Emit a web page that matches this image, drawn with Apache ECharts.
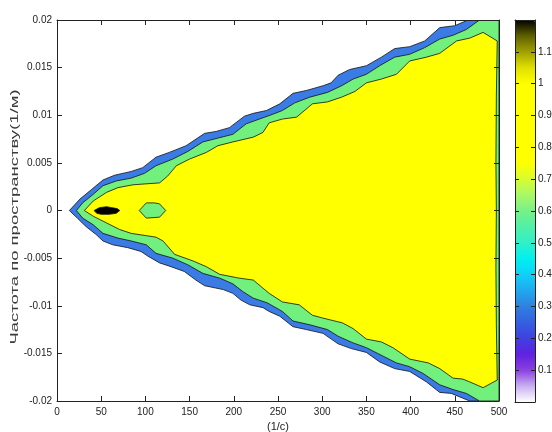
<!DOCTYPE html>
<html><head><meta charset="utf-8">
<script src="https://cdn.jsdelivr.net/npm/echarts@6/dist/echarts.min.js"></script>
<style>html,body{margin:0;padding:0;background:#fff}#c{width:552px;height:432px}</style>
</head><body><div id="c"></div>
<script>
// ---- texts / ranges ----
const xTitle = '(1/с)';
const yTitle = 'Частота по пространству(1/м)';
const xRange = [0, 500, 50];
const yRange = [-0.02, 0.02, 0.005];
const cbRange = [0, 1.2, 0.1];

// colormap for the colour bar (0 .. 1.2)
const colormap = ['#ffffff','#c8b0f0','#8a40e0','#6020e0','#4040e0','#3460e0','#3080e0','#20a8f0','#10d0f8','#00f0f0','#30f0c8','#50f0a8','#78f088','#a8f868','#d8fc30','#ffff00','#ffff00','#ffff00','#ffff00','#ffff00','#ffff00','#e0e000','#a0a000','#606000','#000000'];

// ---- contour boundaries (x: 1/с, y: 1/м) ----
const outerUpper = [[14,0],[26,0.0012],[39,0.0022],[52,0.0032],[65,0.0037],[84,0.0041],[97,0.0045],[112,0.0056],[127,0.0061],[146,0.0068],[167,0.0081],[180,0.0083],[195,0.0087],[212,0.0099],[222,0.0102],[237,0.0105],[252,0.0112],[267,0.0123],[282,0.0126],[301,0.0131],[310,0.0134],[318,0.0142],[331,0.0148],[350,0.0152],[367,0.0161],[382,0.0170],[399,0.0172],[416,0.0178],[433,0.0192],[450,0.0194],[465,0.0200]];
const outerLower = [[14,0],[23,-0.0008],[33,-0.0017],[44,-0.0025],[52,-0.0032],[63,-0.0036],[80,-0.0039],[95,-0.0043],[103,-0.0048],[116,-0.0055],[129,-0.0059],[144,-0.0064],[157,-0.0073],[167,-0.0079],[188,-0.0083],[199,-0.0087],[208,-0.0094],[218,-0.0099],[233,-0.0102],[240,-0.0106],[252,-0.0111],[267,-0.0122],[282,-0.0125],[301,-0.0129],[318,-0.0140],[333,-0.0145],[350,-0.0149],[365,-0.0159],[382,-0.0166],[399,-0.0169],[418,-0.0180],[433,-0.0191],[446,-0.0192],[459,-0.0197],[467,-0.0200]];
const midUpper = [[22,0],[29,0.0008],[41,0.0017],[52,0.0026],[67,0.0031],[84,0.0034],[99,0.0039],[112,0.0047],[131,0.0054],[148,0.0062],[165,0.0072],[182,0.0076],[199,0.0080],[214,0.0091],[229,0.0096],[244,0.0101],[255,0.0105],[269,0.0113],[286,0.0119],[306,0.0124],[322,0.0131],[335,0.0138],[350,0.0143],[365,0.0152],[382,0.0161],[399,0.0164],[416,0.0171],[433,0.0180],[448,0.0184],[463,0.0190],[478,0.0200]];
const midLower = [[22,0],[29,-0.0008],[41,-0.0015],[52,-0.0024],[69,-0.0029],[84,-0.0032],[101,-0.0036],[112,-0.0045],[131,-0.0050],[148,-0.0057],[165,-0.0066],[184,-0.0071],[199,-0.0077],[210,-0.0085],[222,-0.0092],[238,-0.0097],[255,-0.0106],[267,-0.0116],[286,-0.0120],[306,-0.0125],[318,-0.0132],[335,-0.0139],[350,-0.0144],[369,-0.0153],[384,-0.0160],[399,-0.0164],[414,-0.0171],[433,-0.0183],[448,-0.0188],[463,-0.0192],[478,-0.0200]];
const innerUpper = [[31,0],[41,0.0010],[56,0.0019],[69,0.0024],[86,0.0027],[116,0.0029],[125,0.0036],[135,0.0047],[150,0.0054],[169,0.0061],[182,0.0068],[199,0.0072],[222,0.0077],[233,0.0082],[240,0.0092],[255,0.0096],[271,0.0098],[289,0.0112],[306,0.0114],[322,0.0119],[337,0.0125],[350,0.0134],[367,0.0138],[384,0.0143],[399,0.0157],[418,0.0161],[433,0.0165],[452,0.0178],[467,0.0181],[482,0.0187],[498,0.0178]];
const innerRight = [[497,0.012],[496.5,0.005],[497,0],[496.5,-0.006],[497,-0.012]];
const innerLower = [[31,0],[41,-0.0006],[56,-0.0013],[71,-0.0020],[84,-0.0024],[112,-0.0028],[120,-0.0032],[133,-0.0046],[154,-0.0053],[169,-0.0059],[184,-0.0067],[206,-0.0071],[222,-0.0073],[231,-0.0080],[240,-0.0087],[255,-0.0096],[274,-0.0099],[289,-0.0110],[301,-0.0113],[323,-0.0118],[335,-0.0124],[350,-0.0135],[367,-0.0138],[380,-0.0144],[399,-0.0156],[420,-0.0160],[433,-0.0166],[448,-0.0176],[459,-0.0177],[467,-0.0180],[482,-0.0186],[498,-0.0178]];
const dipIsland = [[93,0],[101,0.0008],[110,0.0008],[116,0.0007],[123,0],[116,-0.0007],[101,-0.0008]];
const peakBlob = [[42,0],[48,0.0003],[56,0.0004],[62,0.0003],[68,0.0002],[71,0],[67,-0.0003],[59,-0.0004],[50,-0.0004],[45,-0.0003]];
const rightCorners = [[500,0.02],[500,-0.02]];

const fillBlue = '#3b7be6', fillGreen = '#72f07e', fillYellow = '#ffff00', fillBlack = '#000000';
const FONT = "'Liberation Sans',Arial,sans-serif";

function rev(a){ return a.slice().reverse(); }
const polyBlue = outerUpper.concat(rightCorners, rev(outerLower));
const polyGreen = midUpper.concat(rightCorners, rev(midLower));
const polyYellow = innerUpper.concat(innerRight, rev(innerLower));

function polySeries(points, color, z){
  return {
    type: 'custom', xAxisIndex: 0, yAxisIndex: 0, coordinateSystem: 'cartesian2d',
    data: points, clip: true, z: z, silent: true, encode: {x: 0, y: 1},
    renderItem: function(params, api){
      if (params.dataIndex !== 0) return null;
      return { type: 'polygon', shape: { points: points.map(function(p){ return api.coord(p); }) },
        style: { fill: color, stroke: '#111', lineWidth: 0.8 } };
    }
  };
}

const chart = echarts.init(document.getElementById('c'), null, {renderer: 'canvas'});
const axLine = {show: true, onZero: false, lineStyle: {color: '#222', width: 1}};
const tick = {show: true, inside: true, length: 5, lineStyle: {color: '#222'}};
const lbl = {color: '#222', fontFamily: FONT, fontSize: 10};
chart.setOption({
  animation: false,
  backgroundColor: '#fff',
  grid: [
    {left: 57, top: 20, width: 442, height: 381, outerBoundsMode: 'none', containLabel: false},
    {left: 515, top: 20, width: 20, height: 382, outerBoundsMode: 'none', containLabel: false}
  ],
  graphic: [{
    type: 'text', x: 15, y: 217, rotation: Math.PI / 2, scaleY: 0.58, silent: true,
    style: {text: yTitle, font: "18.5px 'Liberation Sans', Arial, sans-serif", fill: '#3a3a3a', align: 'center', verticalAlign: 'middle'}
  }],
  xAxis: [
    {gridIndex: 0, type: 'value', min: xRange[0], max: xRange[1], interval: xRange[2], position: 'bottom', z: 10,
     axisLine: axLine, axisTick: tick, splitLine: {show: false}, axisLabel: Object.assign({margin: 6}, lbl),
     name: xTitle, nameLocation: 'middle', nameGap: 20, nameMoveOverlap: false, nameTextStyle: {color: '#222', fontFamily: FONT, fontSize: 11}},
    {gridIndex: 0, type: 'value', min: xRange[0], max: xRange[1], interval: xRange[2], position: 'top', z: 10,
     axisLine: axLine, axisTick: tick, splitLine: {show: false}, axisLabel: {show: false}},
    {gridIndex: 1, type: 'value', min: 0, max: 1, position: 'bottom', z: 10,
     axisLine: axLine, axisTick: {show: false}, splitLine: {show: false}, axisLabel: {show: false}},
    {gridIndex: 1, type: 'value', min: 0, max: 1, position: 'top', z: 10,
     axisLine: axLine, axisTick: {show: false}, splitLine: {show: false}, axisLabel: {show: false}}
  ],
  yAxis: [
    {gridIndex: 0, type: 'value', min: yRange[0], max: yRange[1], interval: yRange[2], position: 'left', z: 10,
     axisLine: axLine, axisTick: tick, splitLine: {show: false}, axisLabel: Object.assign({margin: 5}, lbl)},
    {gridIndex: 0, type: 'value', min: yRange[0], max: yRange[1], interval: yRange[2], position: 'right', z: 10,
     axisLine: axLine, axisTick: tick, splitLine: {show: false}, axisLabel: {show: false}},
    {gridIndex: 1, type: 'value', min: cbRange[0], max: cbRange[1], interval: cbRange[2], position: 'right', z: 10,
     axisLine: axLine, axisTick: {show: true, inside: true, length: 4, lineStyle: {color: '#222'}}, splitLine: {show: false},
     axisLabel: Object.assign({margin: 3, showMinLabel: false, showMaxLabel: false}, lbl)},
    {gridIndex: 1, type: 'value', min: cbRange[0], max: cbRange[1], interval: cbRange[2], position: 'left', z: 10,
     axisLine: axLine, axisTick: {show: true, inside: true, length: 4, lineStyle: {color: '#222'}}, splitLine: {show: false},
     axisLabel: {show: false}}
  ],
  visualMap: {
    type: 'continuous', min: cbRange[0], max: cbRange[1], seriesIndex: 5, inRange: {color: colormap},
    left: 515, top: 20, itemWidth: 20, itemHeight: 382, calculable: false, text: null, showLabel: false,
    padding: 0, hoverLink: false, orient: 'vertical', z: 2
  },
  series: [
    polySeries(polyBlue, fillBlue, 2),
    polySeries(polyGreen, fillGreen, 3),
    polySeries(polyYellow, fillYellow, 4),
    polySeries(dipIsland, fillGreen, 5),
    polySeries(peakBlob, fillBlack, 6),
    {type: 'scatter', xAxisIndex: 2, yAxisIndex: 2, data: [], silent: true}
  ]
});
</script></body></html>
